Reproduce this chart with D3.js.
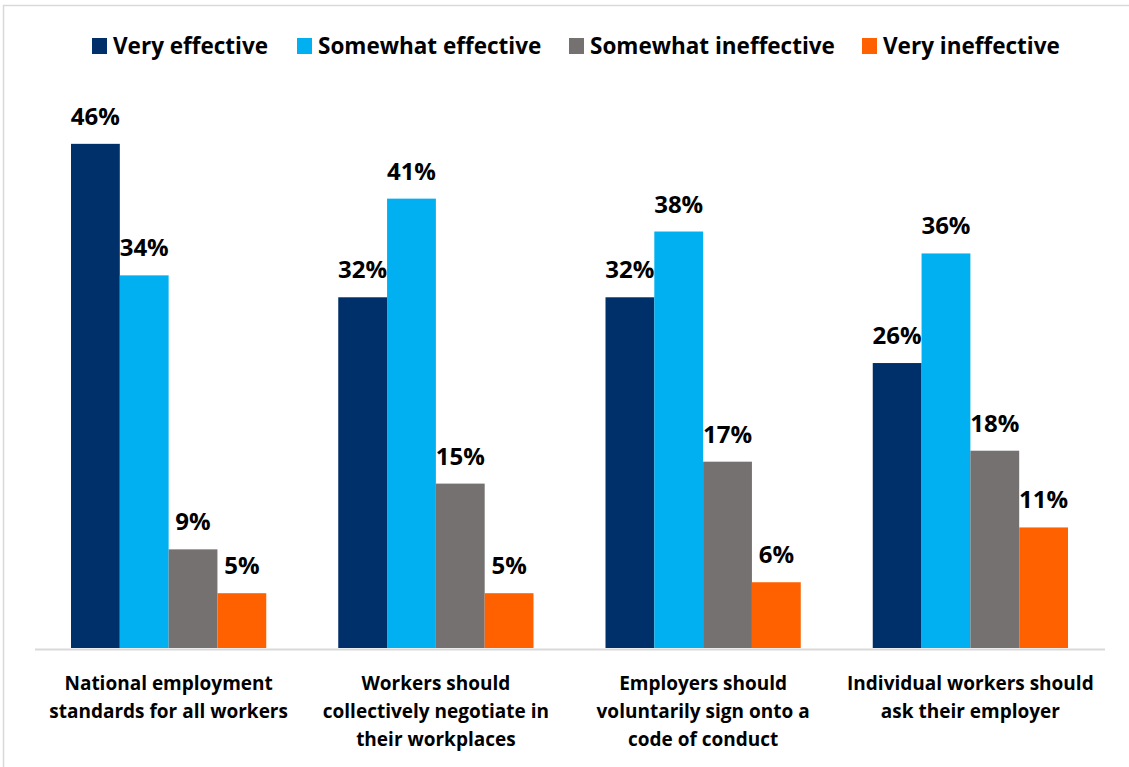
<!DOCTYPE html>
<html>
<head>
<meta charset="utf-8">
<script src="https://cdn.jsdelivr.net/npm/d3@7"></script>
<style>
  html, body { margin: 0; padding: 0; background: #fff; }
  svg { display: block; font-family: "Open Sans", Lato, sans-serif; font-weight: 700; }
</style>
</head>
<body>
<div id="chart"></div>
<script>
// Survey: how effective each approach would be
const categories = [
  ["National employment", "standards for all workers"],
  ["Workers should", "collectively negotiate in", "their workplaces"],
  ["Employers should", "voluntarily sign onto a", "code of conduct"],
  ["Individual workers should", "ask their employer"]
];
const seriesNames = ["Very effective", "Somewhat effective", "Somewhat ineffective", "Very ineffective"];
const seriesColors = ["#003069", "#00B0F0", "#767171", "#FF6100"];
const veryEffective       = [46, 32, 32, 26];
const somewhatEffective   = [34, 41, 38, 36];
const somewhatIneffective = [9, 15, 17, 18];
const veryIneffective     = [5, 5, 6, 11];
const seriesValues = [veryEffective, somewhatEffective, somewhatIneffective, veryIneffective];

const W = 1129, H = 767;
const svg = d3.select("#chart").append("svg").attr("width", W).attr("height", H);

// outer frame
svg.append("rect")
  .attr("x", 3.5).attr("y", 5.5).attr("width", W + 20).attr("height", H + 20)
  .attr("fill", "none").attr("stroke", "#d9d9d9").attr("stroke-width", 1.5);

const x0 = d3.scaleBand().domain(d3.range(categories.length)).range([35, 1104]).paddingInner(0).paddingOuter(0);
const x1 = d3.scaleBand().domain(d3.range(seriesNames.length)).range([36, x0.bandwidth() - 36]);
const y = d3.scaleLinear().domain([0, 50]).range([648, 100]);

const groups = svg.append("g").selectAll("g")
  .data(categories)
  .join("g")
  .attr("transform", (d, i) => `translate(${x0(i)},0)`);

groups.each(function(cat, ci) {
  const g = d3.select(this);
  seriesValues.forEach((vals, si) => {
    const v = vals[ci];
    g.append("rect")
      .attr("x", x1(si))
      .attr("y", y(v))
      .attr("width", x1.bandwidth())
      .attr("height", y(0) - y(v))
      .attr("fill", seriesColors[si]);
  });
  seriesValues.forEach((vals, si) => {
    const v = vals[ci];
    g.append("text")
      .attr("x", x1(si) + x1.bandwidth() / 2)
      .attr("y", y(v) - 19)
      .attr("text-anchor", "middle")
      .attr("font-size", 24)
      .attr("fill", "#000")
      .text(v + "%");
  });
});

// category axis line
svg.append("line")
  .attr("x1", 35).attr("x2", 1105)
  .attr("y1", 649.5).attr("y2", 649.5)
  .attr("stroke", "#d9d9d9").attr("stroke-width", 2);

// category labels
groups.append("text")
  .attr("text-anchor", "middle")
  .attr("font-size", 19)
  .attr("fill", "#000")
  .selectAll("tspan")
  .data(d => d)
  .join("tspan")
  .attr("x", x0.bandwidth() / 2)
  .attr("y", (d, i) => 690 + i * 28)
  .text(d => d);

// legend
const legendX = [92, 297, 569, 862];
const legend = svg.append("g").selectAll("g")
  .data(seriesNames)
  .join("g")
  .attr("transform", (d, i) => `translate(${legendX[i]},0)`);
legend.append("rect")
  .attr("x", 0).attr("y", 38).attr("width", 15).attr("height", 16)
  .attr("fill", (d, i) => seriesColors[i]);
legend.append("text")
  .attr("x", 21).attr("y", 54)
  .attr("font-size", 22.5)
  .attr("fill", "#000")
  .text(d => d);
</script>
</body>
</html>
